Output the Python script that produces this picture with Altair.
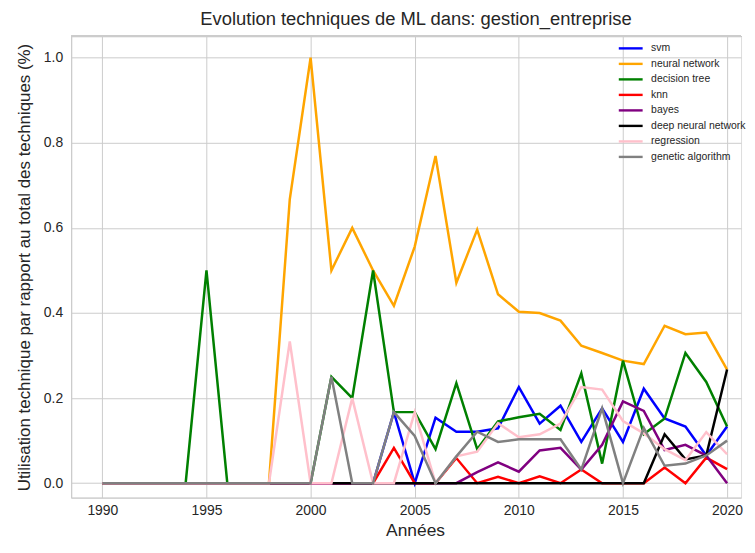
import altair as alt
import pandas as pd

years = list(range(1990, 2021))

series_names = ["svm", "neural network", "decision tree", "knn", "bayes",
                "deep neural network", "regression", "genetic algorithm"]
series_colors = ["#0000ff", "#ffa500", "#008000", "#ff0000", "#800080",
                 "#000000", "#ffc0cb", "#808080"]

svm = [0]*14 + [0.167, 0, 0.154, 0.121, 0.121, 0.129, 0.226, 0.14, 0.182, 0.097,
                0.176, 0.097, 0.222, 0.152, 0.133, 0.065, 0.133]
neural_network = [0]*9 + [0.667, 1.0, 0.5, 0.6, 0.5, 0.417, 0.556, 0.769, 0.471,
                          0.596, 0.444, 0.403, 0.4, 0.382, 0.323, 0.306, 0.288,
                          0.28, 0.37, 0.35, 0.354, 0.267]
decision_tree = [0]*5 + [0.5] + [0]*5 + [0.25, 0.2, 0.5, 0.167, 0.167, 0.08, 0.235,
                                        0.08, 0.145, 0.155, 0.163, 0.125, 0.258,
                                        0.046, 0.288, 0.115, 0.152, 0.306, 0.238,
                                        0.133]
knn = [0]*14 + [0.083, 0, 0, 0.059, 0, 0.015, 0, 0.016, 0, 0.032, 0, 0, 0,
                0.037, 0, 0.06, 0.033]
bayes = [0]*18 + [0.026, 0.049, 0.027, 0.077, 0.083, 0.032, 0.09, 0.192, 0.17,
                  0.078, 0.09, 0.065, 0]
deep_neural_network = [None]*11 + [0]*16 + [0.115, 0.056, 0.065, 0.267]
regression = [0]*9 + [0.333, 0, 0, 0.2, 0, 0, 0.167, 0, 0.063, 0.074, 0.141,
                      0.108, 0.115, 0.14, 0.226, 0.22, 0.146, 0.117, 0.08, 0.054,
                      0.12, 0.068]
genetic_algorithm = [0]*11 + [0.25, 0, 0, 0.167, 0.111, 0, 0.063, 0.121, 0.097,
                              0.103, 0.103, 0.103, 0.032, 0.176, 0, 0.13, 0.041,
                              0.046, 0.065, 0.1]

all_values = [svm, neural_network, decision_tree, knn, bayes,
              deep_neural_network, regression, genetic_algorithm]

rows = []
for name, vals in zip(series_names, all_values):
    for yr, v in zip(years, vals):
        if v is not None:
            rows.append({"year": yr, "value": v, "series": name})
df = pd.DataFrame(rows)

W = 674
H = 464
FONT = "Liberation Sans"
TXT = "#262626"
GRID = "#cccccc"

x_enc = alt.X(
    "year:Q",
    scale=alt.Scale(domain=[1988.5, 2020.67], nice=False, zero=False),
    axis=alt.Axis(values=[1990, 1995, 2000, 2005, 2010, 2015, 2020], format="d",
                  title="Années", grid=True, gridColor=GRID, gridWidth=1,
                  domain=True, domainColor=GRID, domainWidth=1.25, ticks=False,
                  labelPadding=6, labelFontSize=14, titleFontSize=17.5,
                  titlePadding=4, titleFontWeight="normal", titleX=346,
                  labelColor=TXT, titleColor=TXT, labelFont=FONT, titleFont=FONT),
)
y_enc = alt.Y(
    "value:Q",
    scale=alt.Scale(domain=[-0.034, 1.05], nice=False, zero=False),
    axis=alt.Axis(values=[0, 0.2, 0.4, 0.6, 0.8, 1.0], format=".1f",
                  title="Utilisation technique par rapport au total des techniques (%)",
                  grid=True, gridColor=GRID, gridWidth=1,
                  domain=True, domainColor=GRID, domainWidth=1.25, ticks=False,
                  labelPadding=8.5, labelFontSize=14, titleFontSize=17,
                  titlePadding=10, titleFontWeight="normal",
                  labelColor=TXT, titleColor=TXT, labelFont=FONT, titleFont=FONT),
)
color_enc = alt.Color(
    "series:N",
    scale=alt.Scale(domain=series_names, range=series_colors),
    legend=alt.Legend(orient="none", legendX=554, legendY=3, title=None,
                      symbolType="M-1.6,0H1.6", symbolSize=225,
                      symbolStrokeWidth=2.4, labelFontSize=10.5, labelOffset=11.5,
                      rowPadding=0.6, padding=0, labelColor=TXT, labelFont=FONT,
                      fillColor="transparent", strokeColor="transparent"),
)

layers = []
for name in series_names:
    layers.append(
        alt.Chart(df)
        .transform_filter(alt.datum.series == name)
        .mark_line(strokeWidth=2.5)
        .encode(x=x_enc, y=y_enc, color=color_enc)
    )

top_border = alt.Chart(df).mark_rule(color=GRID, strokeWidth=1.25).encode(
    x=alt.value(0), x2=alt.value(W), y=alt.value(0)
)

chart = (
    alt.layer(*layers, top_border)
    .properties(
        width=W,
        height=H,
        padding={"left": 7.5, "top": 0, "right": 0, "bottom": 0},
        title=alt.TitleParams("Evolution techniques de ML dans: gestion_entreprise",
                              fontSize=18.5, font=FONT, fontWeight="normal",
                              color=TXT, anchor="middle", offset=7, dx=10),
    )
    .configure_view(stroke=None)
    .configure(background="white")
)

chart.save("out.html", embed_options={"renderer": "svg", "actions": False})
